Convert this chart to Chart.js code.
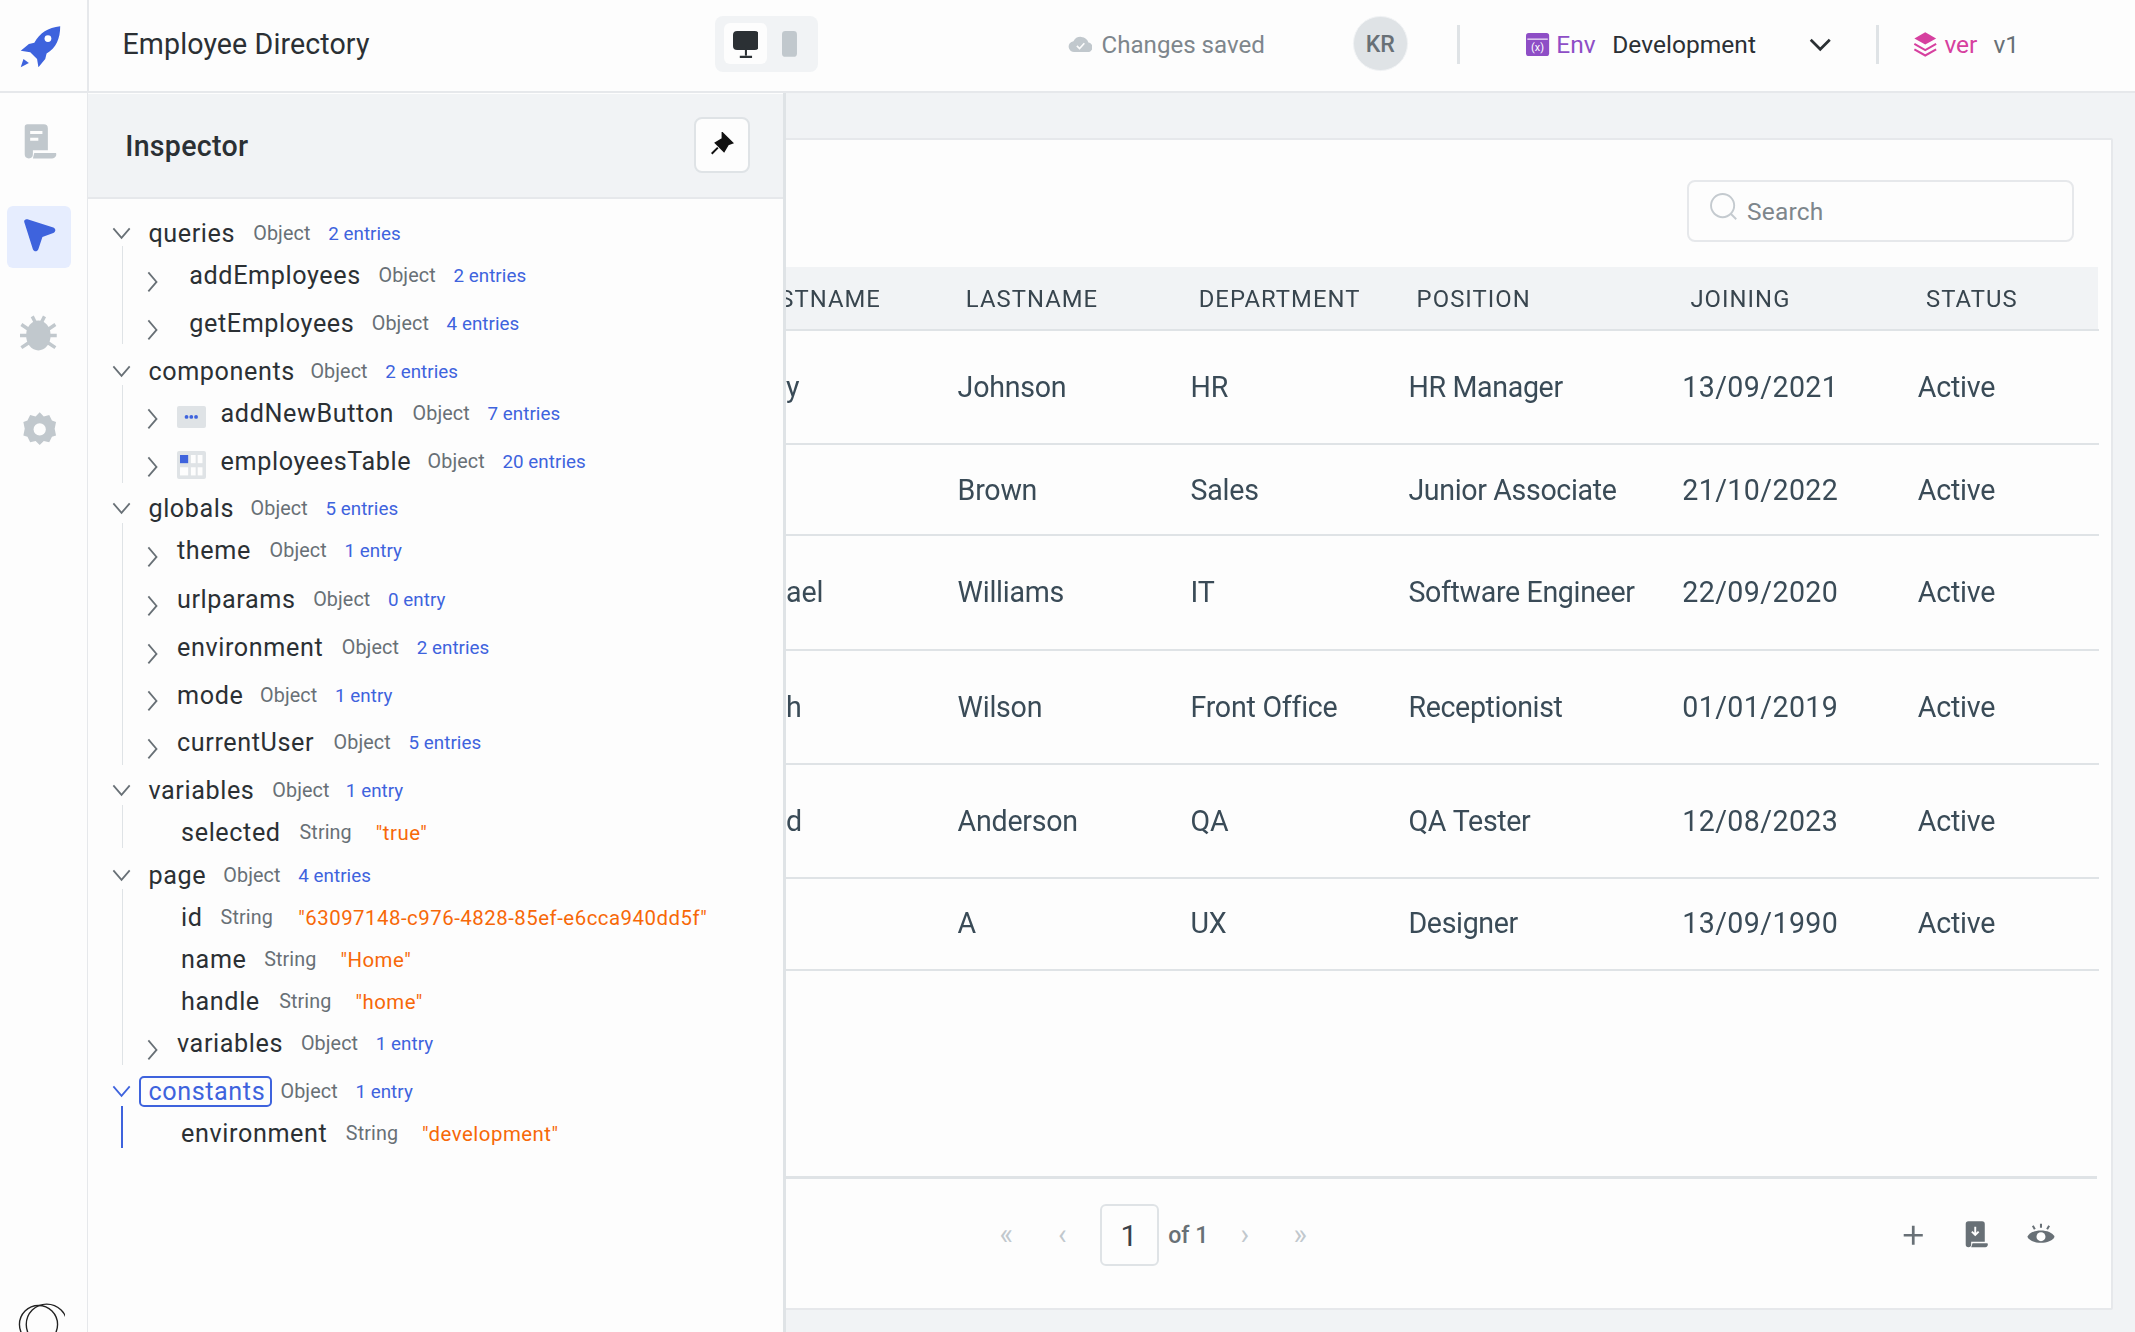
<!DOCTYPE html>
<html lang="en">
<head>
<meta charset="UTF-8">
<title>Employee Directory</title>
<script src="https://cdn.jsdelivr.net/npm/chart.js"></script>
<style>
    html, body { margin: 0; padding: 0; width: 2135px; height: 1332px; overflow: hidden; background: #f1f3f5; font-family: Roboto, sans-serif; }
    #ui { position: absolute; left: 0; top: 0; width: 2135px; height: 1332px; overflow: hidden; }
    .box, .txt, svg { position: absolute; box-sizing: border-box; }
    .txt { white-space: nowrap; line-height: 1; transform: translateY(-50%); }
    #tabela { position: absolute; }
</style>
</head>
<body>
<div id="ui"></div>
<script>
// table contents
const columns = ['STNAME', 'LASTNAME', 'DEPARTMENT', 'POSITION', 'JOINING', 'STATUS'];
const firstNames = ['y', '', 'ael', 'h', 'd', ''];
const lastNames = ['Johnson', 'Brown', 'Williams', 'Wilson', 'Anderson', 'A'];
const departments = ['HR', 'Sales', 'IT', 'Front Office', 'QA', 'UX'];
const positions = ['HR Manager', 'Junior Associate', 'Software Engineer', 'Receptionist', 'QA Tester', 'Designer'];
const joinings = ['13/09/2021', '21/10/2022', '22/09/2020', '01/01/2019', '12/08/2023', '13/09/1990'];
const statuses = ['Active', 'Active', 'Active', 'Active', 'Active', 'Active'];

// inspector tree contents
const treeNames = ['queries', 'addEmployees', 'getEmployees', 'components', 'addNewButton', 'employeesTable', 'globals', 'theme', 'urlparams', 'environment', 'mode', 'currentUser', 'variables', 'selected', 'page', 'id', 'name', 'handle', 'variables', 'constants', 'environment'];
const treeTypes = ['Object', 'Object', 'Object', 'Object', 'Object', 'Object', 'Object', 'Object', 'Object', 'Object', 'Object', 'Object', 'Object', 'String', 'Object', 'String', 'String', 'String', 'Object', 'Object', 'String'];
const treeValues = ['2 entries', '2 entries', '4 entries', '2 entries', '7 entries', '20 entries', '5 entries', '1 entry', '0 entry', '2 entries', '1 entry', '5 entries', '1 entry', '"true"', '4 entries', '"63097148-c976-4828-85ef-e6cca940dd5f"', '"Home"', '"home"', '1 entry', '1 entry', '"development"'];

// layout, measured on the 1568 wide view of the screenshot
const k = 2135 / 1568;
const columnX = [577, 703, 874, 1034, 1235, 1408];
const columnSpacing = [-0.15, -0.25, -0.25, -0.35, 0.4, -0.25];
const headerX = [572, 709, 880, 1040, 1241, 1414];
const rowY = [286, 362, 437, 521, 605, 680];
const rowLines = [242, 326, 393, 477, 561, 645, 712];
const treeY = [172, 203, 238, 273, 304, 339, 374, 405, 441, 476, 511, 546, 581, 612, 643, 674, 705, 736, 767, 802, 833];
const treeNameX = [109, 139, 139, 109, 162, 162, 109, 130, 130, 130, 130, 130, 109, 133, 109, 133, 133, 133, 130, 109, 133];
const treeTypeX = [186, 278, 273, 228, 303, 314, 184, 198, 230, 251, 191, 245, 200, 220, 164, 162, 194, 205, 221, 206, 254];
const treeValueX = [241, 333, 328, 283, 358, 369, 239, 253, 285, 306, 246, 300, 254, 276, 219, 219, 250, 261, 276, 261, 310];
const treeOpen = [0, 3, 6, 12, 14, 19];
const treeClosed = [1, 2, 4, 5, 7, 8, 9, 10, 11, 18];
const treeGuides = [[181, 253], [283, 355], [384, 562], [591, 623], [653, 782]];

const ui = document.getElementById('ui');

function caixa(x, y, w, h, css) {
    const d = document.createElement('div');
    d.className = 'box';
    d.style.cssText = `left:${x * k}px;top:${y * k}px;width:${w * k}px;height:${h * k}px;${css || ''}`;
    ui.appendChild(d);
    return d;
}

function texto(str, x, y, size, cor, extra) {
    const s = document.createElement('span');
    s.className = 'txt';
    s.textContent = str;
    s.style.cssText = `left:${x * k}px;top:${y * k}px;font-size:${size * k}px;color:${cor};${extra || ''}`;
    ui.appendChild(s);
    return s;
}

function icone(x, y, w, h, inner) {
    const holder = document.createElement('div');
    holder.innerHTML = `<svg style="left:${x * k}px;top:${y * k}px" width="${w * k}" height="${h * k}" viewBox="0 0 ${w} ${h}">${inner}</svg>`;
    ui.appendChild(holder.firstChild);
}

// card behind the table
caixa(575, 101, 977, 861, 'background:#fdfdfd;border:2px solid #e6e8eb;border-radius:2px');
caixa(577, 196, 964, 46, 'background:#f1f3f5');
caixa(1239, 132, 284, 46, 'border:2px solid #e6e8eb;border-radius:8px');
icone(1255, 141, 22, 22, '<circle cx="10" cy="10" r="8.5" fill="none" stroke="#c4cacf" stroke-width="1.4"/><path d="M16 16l4 4" stroke="#c4cacf" stroke-width="1.4"/>');
texto('Search', 1283, 156, 18, '#7e868c', 'letter-spacing:.2px');

// table footer
caixa(577, 864, 963, 2, 'background:#dfe3e6');
texto('«', 734, 906, 21, '#c1c8cd');
texto('‹', 777, 906, 21, '#c1c8cd');
caixa(808, 884, 43, 46, 'border:2px solid #dfe3e6;border-radius:6px');
texto('1', 823, 908, 22, '#3a4148');
texto('of 1', 858, 908, 17, '#687076', 'font-weight:500');
texto('›', 911, 906, 21, '#c1c8cd');
texto('»', 950, 906, 21, '#c1c8cd');
icone(1396, 898, 18, 18, '<path d="M9 2v14M2 9h14" stroke="#687076" stroke-width="2"/>');
icone(1442, 896, 20, 22, '<path d="M2 3a2 2 0 0 1 2-2h10a2 2 0 0 1 2 2v13H6v2a2 2 0 0 1-4 0z" fill="#687076"/><path d="M9 5v6M6.500 8.500L9 11l2.500-2.500" stroke="#fff" stroke-width="1.400" fill="none"/><path d="M7 17h11a2 2 0 0 1-2 3H6z" fill="#687076"/>');
icone(1488, 897, 22, 22, '<path d="M1 11.500c3-6 17-6 20 0-3 6-17 6-20 0z" fill="#687076"/><circle cx="11" cy="11.500" r="3.300" fill="#fff"/><path d="M11 2v3M5 3.500l1.500 2.500M17 3.500L15.500 6" stroke="#687076" stroke-width="1.500"/>');

// canvas of the table goes on top of the card
const canvas = document.createElement('canvas');
canvas.id = 'tabela';
canvas.style.left = (577 * k) + 'px';
canvas.style.top = (196 * k) + 'px';
canvas.width = Math.round(964 * k);
canvas.height = Math.round(520 * k);
ui.appendChild(canvas);

// left sidebar
caixa(0, 0, 64.500, 978, 'background:#fdfdfd;border-right:1px solid #e6e8eb');
caixa(5, 151, 47, 46, 'background:#e6edfe;border-radius:6px');
icone(16, 90, 26, 28, '<path d="M2 3a2 2 0 0 1 2-2h12a3 3 0 0 1 3 3v16H8v3a3 3 0 0 1-6 0z" fill="#c1c8cd"/><path d="M6 7h9M6 12h6" stroke="#fdfdfd" stroke-width="2.200"/><path d="M9 22h16a3 3 0 0 1-3 4H8z" fill="#c1c8cd"/>');
icone(16, 160, 26, 28, '<path d="M2 4c-1-2 0-3 2-3l19 6c2 1 2 3 0 4l-8 3-3 9c-1 2-3 2-4 0z" fill="#3e63dd"/>');
icone(15, 231, 27, 28, '<ellipse cx="13.500" cy="15" rx="9" ry="11" fill="#c1c8cd"/><path d="M1 7l6 4M26 7l-6 4M0 15h6M27 15h-6M1 24l6-4M26 24l-6-4M9 1l2 4M18 1l-2 4" stroke="#c1c8cd" stroke-width="2.500"/>');
icone(16, 302, 26, 28, '<path d="M13 1l3 3 4-1 2 4 3 1-1 5 1 5-3 1-2 4-4-1-3 3-3-3-4 1-2-4-3-1 1-5-1-5 3-1 2-4 4 1z" fill="#c1c8cd"/><circle cx="13" cy="13.500" r="4.500" fill="#fdfdfd"/>');
icone(10, 955, 38, 23, '<circle cx="18" cy="18" r="14" fill="none" stroke="#222" stroke-width="1"/><circle cx="24" cy="18" r="15" fill="none" stroke="#222" stroke-width="1"/>');

// top bar
caixa(0, 0, 1568, 68, 'background:#fdfdfd;border-bottom:2px solid #e6e8eb');
caixa(64, 0, 1, 67, 'background:#e6e8eb');
icone(13, 18, 32, 32, '<path d="M31 1c-9 1-15 5-19 12l-4 1-6 5 7 1 5 5 1 6 5-6 1-4c7-4 10-11 10-20z" fill="#3e63dd"/><circle cx="22" cy="10" r="2.500" fill="#fff"/><path d="M2 31l2-6 4 3z" fill="#3e63dd"/>');
texto('Employee Directory', 90, 32, 21, '#2b3034', 'letter-spacing:.1px');
caixa(525, 12, 76, 41, 'background:#f1f3f5;border-radius:8px');
caixa(532, 17, 31, 30, 'background:#fdfdfd;border-radius:6px');
icone(538, 23, 19, 20, '<rect x="0" y="0" width="19" height="14" rx="3" fill="#2b3034"/><path d="M9.500 14v4M5 19h9" stroke="#2b3034" stroke-width="1.500"/>');
icone(574, 23, 11, 19, '<rect width="11" height="19" rx="2.500" fill="#c1c8cd"/>');
icone(784, 24, 18, 16, '<path d="M5 14a4 4 0 0 1-1-8 6 6 0 0 1 11 1 3.500 3.500 0 0 1-1 7z" fill="#c1c8cd"/><path d="M6.500 9.500l2 2 3.500-4" stroke="#fdfdfd" stroke-width="1.200" fill="none"/>');
texto('Changes saved', 809, 33, 17.700, '#7e868c', 'letter-spacing:0');
caixa(994, 12, 40, 40, 'background:#dfe3e6;border:1px solid #f1f3f5;border-radius:50%');
texto('KR', 1003, 33, 17, '#687076', 'font-weight:500');
caixa(1070, 18, 2, 29, 'background:#dfe3e6');
icone(1121, 24, 17, 17, '<rect width="17" height="17" rx="2" fill="#8e4ec6"/><path d="M1 4.500h15" stroke="#fff" stroke-width=".8"/><text x="8.500" y="13.500" font-size="8" fill="#fff" text-anchor="middle" font-family="Roboto">(x)</text>');
texto('Env', 1143, 33, 18, '#8e4ec6');
texto('Development', 1184, 33, 18, '#2b3034', 'letter-spacing:.05px');
icone(1328, 27, 18, 12, '<path d="M2 2l7 7 7-7" stroke="#2b3034" stroke-width="2" fill="none"/>');
caixa(1378, 18, 2, 29, 'background:#dfe3e6');
icone(1405, 23, 18, 19, '<path d="M9 1l8 4.500-8 4.500-8-4.500z" fill="#d6409f"/><path d="M1 9.500l8 4.500 8-4.500M1 13.500l8 4.500 8-4.500" stroke="#d6409f" stroke-width="1.500" fill="none"/>');
texto('ver', 1428, 33, 18, '#d6409f');
texto('v1', 1464, 33, 18, '#687076');

// inspector panel, covers the start of the table
caixa(64.500, 68, 512.500, 910, 'background:#fdfdfd;border-right:3px solid #dfe3e6');
caixa(64.500, 69, 510.500, 77, 'background:#f1f3f5;border-bottom:2px solid #e6e8eb');
texto('Inspector', 92, 107, 21, '#2b3034', 'font-weight:500;letter-spacing:.3px');
caixa(510, 86, 41, 41, 'background:#fdfdfd;border:2px solid #dfe3e6;border-radius:8px');
icone(521, 97, 18, 18, '<path d="M10 1l7 7-3 1-3 5-6-6 5-3zM6.500 11.500L2 16" fill="#111" stroke="#111" stroke-width="1.500"/>');

treeGuides.forEach(g => caixa(89.500, g[0], 1, g[1] - g[0], 'background:#dfe3e6'));
caixa(89, 812, 1.200, 31, 'background:#3e63dd');

treeOpen.forEach(i => {
    const cor = i === 19 ? '#3e63dd' : '#687076';
    icone(82, treeY[i] - 5, 14, 10, `<path d="M1 1l6 7 6-7" stroke="${cor}" stroke-width="1.300" fill="none"/>`);
});
treeClosed.forEach(i => {
    icone(108, treeY[i] - 4, 9, 16, '<path d="M1 1l6 7-6 7" stroke="#687076" stroke-width="1.300" fill="none"/>');
});

// component icons in the tree
caixa(130, 298, 21, 16, 'background:#dfe3e6;border-radius:2px');
icone(130, 298, 21, 16, '<circle cx="7" cy="8" r="1.400" fill="#3e63dd"/><circle cx="10.500" cy="8" r="1.400" fill="#3e63dd"/><circle cx="14" cy="8" r="1.400" fill="#3e63dd"/>');
caixa(130, 331, 21, 21, 'background:#dfe3e6;border-radius:2px');
icone(132, 334, 17, 16, '<rect width="6" height="6" fill="#3e63dd"/><rect x="8" width="3.500" height="6" fill="#fdfdfd"/><rect x="13" width="3.500" height="6" fill="#fdfdfd"/><rect y="9" width="6" height="6" fill="#fdfdfd"/><rect x="8" y="9" width="3.500" height="6" fill="#fdfdfd"/><rect x="13" y="9" width="3.500" height="6" fill="#fdfdfd"/>');
caixa(102, 790, 98, 23, 'border:2px solid #3e63dd;border-radius:5px');

treeNames.forEach((nome, i) => {
    const y = treeY[i];
    texto(nome, treeNameX[i], y, 18.500, i === 19 ? '#3e63dd' : '#2b3034', 'letter-spacing:.6px');
    texto(treeTypes[i], treeTypeX[i], y, 14.500, '#687076', 'letter-spacing:.1px');
    const ehTexto = treeValues[i][0] === '"';
    if (ehTexto) {
        texto(treeValues[i], treeValueX[i], y, 15, '#f76808', 'letter-spacing:.5px');
    } else {
        texto(treeValues[i], treeValueX[i], y, 13.800, '#3e63dd', 'letter-spacing:.05px');
    }
});

// table: one dataset per column, cells placed by the chart scales
const celulas = [firstNames, lastNames, departments, positions, joinings, statuses];

const textoDasCelulas = {
    id: 'textoDasCelulas',
    afterDatasetsDraw(chart) {
        const ctx = chart.ctx;
        ctx.save();
        ctx.textBaseline = 'middle';
        ctx.textAlign = 'left';
        chart.data.datasets.forEach((ds, d) => {
            const meta = chart.getDatasetMeta(d);
            ctx.font = `${ds.tamanho * k}px Roboto`;
            ctx.letterSpacing = ds.espaco + 'px';
            ctx.fillStyle = ds.borderColor;
            meta.data.forEach((ponto, i) => {
                if (ds.textos[i]) ctx.fillText(ds.textos[i], ponto.x, ponto.y);
            });
        });
        ctx.restore();
    }
};

new Chart(canvas.getContext('2d'), {
    type: 'scatter',
    data: {
        datasets: [
            {
                label: 'header',
                textos: columns,
                tamanho: 17.500,
                espaco: 1.050,
                borderColor: '#38454e',
                pointRadius: 0,
                data: columns.map((c, i) => ({ x: headerX[i], y: 221 }))
            },
            ...celulas.map((coluna, c) => ({
                label: columns[c],
                textos: coluna,
                tamanho: 21,
                espaco: columnSpacing[c],
                borderColor: '#3a4b57',
                pointRadius: 0,
                data: coluna.map((v, r) => ({ x: columnX[c], y: rowY[r] }))
            }))
        ]
    },
    plugins: [textoDasCelulas],
    options: {
        responsive: false,
        animation: false,
        devicePixelRatio: 1,
        layout: { padding: 0 },
        plugins: { legend: { display: false }, tooltip: { enabled: false } },
        scales: {
            x: { type: 'linear', display: false, min: 577, max: 1541 },
            y: {
                type: 'linear',
                reverse: true,
                min: 196,
                max: 716,
                afterBuildTicks: scale => { scale.ticks = rowLines.map(v => ({ value: v })); },
                afterFit: scale => { scale.width = 0; },
                ticks: { display: false },
                border: { display: false },
                grid: { color: '#dfe3e6', lineWidth: 2, drawTicks: false }
            }
        }
    }
});
</script>
</body>
</html>
